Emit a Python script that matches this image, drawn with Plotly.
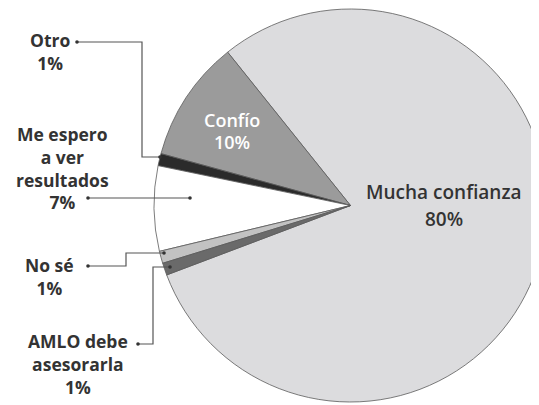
import plotly.graph_objects as go

W, H = 539, 405
OFF = 8  # default page body margin of the html page

labels = ["Mucha confianza", "Confío", "Otro", "Me espero a ver resultados", "No sé", "AMLO debe asesorarla"]
values = [80, 10, 1, 7, 1, 1]
colors = ["#dcdcde", "#9b9b9b", "#2b2b2b", "#ffffff", "#c2c2c2", "#6a6a6a"]

# pie geometry in screen pixels
cx, cy, r = 351, 205.5, 197

fx, fy = cx - OFF, cy - OFF
fig = go.Figure(go.Pie(
    labels=labels,
    values=values,
    sort=False,
    direction="counterclockwise",
    rotation=-38.7,
    marker=dict(colors=colors, line=dict(color="#5a5a5a", width=0.8)),
    textinfo="none",
    hoverinfo="label+percent",
    showlegend=False,
    domain=dict(x=[(fx - r) / W, min(1.0, (fx + r) / W)],
                y=[max(0.0, (H - fy - r) / H), min(1.0, (H - fy + r) / H)]),
))

FONT = "Open Sans"

def px(x):
    return (x - OFF) / W

def py(y):
    return 1 - (y - OFF) / H

annotations = []

def add_text(text, x, y, size=17.5, color="#333333", weight=700):
    annotations.append(dict(
        text=text, x=px(x), y=py(y), xref="paper", yref="paper",
        showarrow=False, xanchor="center", yanchor="middle", align="center",
        font=dict(family=FONT, size=size, color=color, weight=weight),
    ))

add_text("Otro<br>1%", 50, 52)
add_text("Me espero<br>a ver<br>resultados<br>7%", 62, 168)
add_text("No sé<br>1%", 49, 276)
add_text("AMLO debe<br>asesorarla<br>1%", 78, 364)

add_text("Confío", 232, 120, size=18, color="#ffffff", weight=600)
add_text("10%", 232, 142, size=18, color="#ffffff", weight=600)
add_text("Mucha confianza", 444, 192, size=19, color="#333333", weight=600)
add_text("80%", 444, 219, size=19, color="#333333", weight=600)

shapes = []
LC = "#555555"

def path(points):
    d = "M " + " L ".join(f"{px(x)},{py(y)}" for x, y in points)
    shapes.append(dict(type="path", path=d, xref="paper", yref="paper",
                       line=dict(color=LC, width=1.2)))

def dot(x, y, rr=1.8, color="#333333"):
    shapes.append(dict(type="circle", xref="paper", yref="paper",
                       x0=px(x - rr), x1=px(x + rr), y0=py(y + rr), y1=py(y - rr),
                       fillcolor=color, line=dict(width=0)))

# Otro
path([(77, 42), (142, 42), (142, 157), (160, 157)])
dot(77, 42); dot(160, 157)
# Me espero
path([(88, 198), (190, 198)])
dot(88, 198); dot(190, 198)
# No sé
path([(88, 266), (126, 266), (126, 253), (164, 253)])
dot(88, 266); dot(164, 253)
# AMLO
path([(138, 344), (153, 344), (153, 267), (170, 267)])
dot(138, 344); dot(170, 267)

fig.update_layout(
    width=W, height=H,
    margin=dict(l=0, r=0, t=0, b=0),
    paper_bgcolor="#ffffff",
    plot_bgcolor="#ffffff",
    annotations=annotations,
    shapes=shapes,
)

fig.write_html("out.html")
